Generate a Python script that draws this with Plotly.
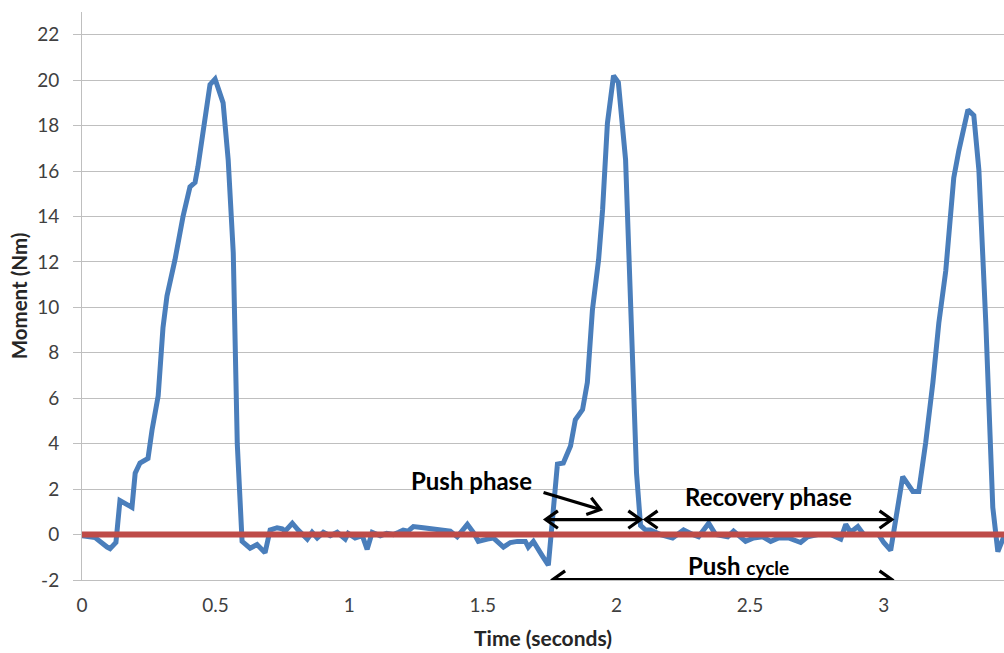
import plotly.graph_objects as go
import math

# ---------------- data ----------------
time_s = [0.000, 0.049, 0.094, 0.105, 0.127, 0.142, 0.187, 0.199, 0.217, 0.247,
          0.262, 0.285, 0.303, 0.318, 0.348, 0.378, 0.404, 0.423, 0.434, 0.461,
          0.479, 0.498, 0.528, 0.547, 0.566, 0.581, 0.599, 0.629, 0.655, 0.685,
          0.704, 0.730, 0.749, 0.760, 0.787, 0.809, 0.843, 0.861, 0.880, 0.903,
          0.929, 0.955, 0.985, 0.996, 1.022, 1.049, 1.067, 1.086, 1.116, 1.140,
          1.165, 1.185, 1.202, 1.220, 1.240, 1.277, 1.303, 1.341, 1.378, 1.404,
          1.442, 1.464, 1.483, 1.517, 1.539, 1.577, 1.603, 1.629, 1.659, 1.670,
          1.689, 1.723, 1.745, 1.779, 1.801, 1.828, 1.846, 1.873, 1.891, 1.910,
          1.933, 1.948, 1.966, 1.989, 2.007, 2.034, 2.075, 2.090, 2.109, 2.127,
          2.165, 2.210, 2.251, 2.285, 2.307, 2.345, 2.371, 2.416, 2.438, 2.483,
          2.513, 2.547, 2.577, 2.607, 2.644, 2.689, 2.715, 2.753, 2.801, 2.839,
          2.858, 2.876, 2.903, 2.925, 2.951, 2.981, 3.000, 3.026, 3.071, 3.109,
          3.131, 3.157, 3.184, 3.206, 3.232, 3.262, 3.281, 3.315, 3.337, 3.356,
          3.382, 3.408, 3.427, 3.449]
moment_nm = [-0.05, -0.13, -0.55, -0.62, -0.35, 1.50, 1.20, 2.70, 3.15, 3.35,
             4.60, 6.10, 9.10, 10.50, 12.10, 14.00, 15.30, 15.50, 16.20, 18.50,
             19.80, 20.05, 19.00, 16.50, 12.40, 4.00, -0.30, -0.60, -0.44, -0.80,
             0.20, 0.30, 0.25, 0.15, 0.50, 0.20, -0.20, 0.10, -0.15, 0.10,
             -0.05, 0.10, -0.20, 0.05, -0.15, -0.05, -0.65, 0.10, -0.05, 0.05,
             0.00, 0.10, 0.20, 0.15, 0.35, 0.30, 0.25, 0.20, 0.15, -0.10,
             0.45, 0.10, -0.30, -0.20, -0.15, -0.55, -0.35, -0.30, -0.30, -0.55,
             -0.30, -0.95, -1.35, 3.10, 3.15, 3.90, 5.05, 5.50, 6.70, 9.90,
             12.10, 14.30, 18.10, 20.20, 19.90, 16.50, 2.70, 0.40, 0.20, 0.20,
             0.00, -0.15, 0.20, 0.00, -0.10, 0.50, 0.00, -0.10, 0.15, -0.30,
             -0.15, -0.10, -0.30, -0.15, -0.15, -0.35, -0.10, 0.00, 0.00, -0.20,
             0.45, 0.10, 0.35, 0.00, 0.00, 0.00, -0.35, -0.70, 2.55, 1.90,
             1.90, 4.05, 6.70, 9.30, 11.60, 15.70, 16.90, 18.70, 18.45, 16.05,
             9.30, 1.20, -0.75, -0.10]

baseline_t = [0.0, 3.45]
baseline_v = [0.0, 0.0]

y_ticks = [-2, 0, 2, 4, 6, 8, 10, 12, 14, 16, 18, 20, 22]
x_ticks = [0, 0.5, 1, 1.5, 2, 2.5, 3]

# phase markers (time, moment)
push_phase_span = (1.735, 2.090)
recovery_span = (2.108, 3.030)
cycle_span = (1.762, 3.030)
phase_arrow_level = 0.66
cycle_arrow_level = -1.98
pointer_from = (1.727, 1.85)
pointer_to = (1.940, 1.10)

# ---------------- layout geometry ----------------
W, H = 1004, 653
ML, MR, MT, MB = 82, 0, 12, 73
X_RANGE = [0, 3.45]
Y_RANGE = [-2, 23]
px_per_x = (W - ML - MR) / (X_RANGE[1] - X_RANGE[0])
px_per_y = (H - MT - MB) / (Y_RANGE[1] - Y_RANGE[0])

FONT = "Lato, 'Open Sans', sans-serif"
BLUE = "#4A7EBB"
RED = "#BE4B48"
GRID = "#BFBFBF"

fig = go.Figure()
fig.add_trace(go.Scatter(x=time_s, y=moment_nm, mode="lines",
                         line=dict(color=BLUE, width=5), hoverinfo="skip",
                         showlegend=False))
fig.add_trace(go.Scatter(x=baseline_t, y=baseline_v, mode="lines",
                         line=dict(color=RED, width=6), hoverinfo="skip",
                         showlegend=False))


def chevron(tip, back, size=15, spread=0.62):
    """open arrowhead at tip, pointing away from back (data coords)"""
    dxp = (tip[0] - back[0]) * px_per_x
    dyp = (tip[1] - back[1]) * px_per_y
    ang = math.atan2(dyp, dxp)
    pts = []
    for s in (spread, -spread):
        a = ang + math.pi + s
        pts.append((tip[0] + size * math.cos(a) / px_per_x,
                    tip[1] + size * math.sin(a) / px_per_y))
    return [pts[0][0], tip[0], pts[1][0]], [pts[0][1], tip[1], pts[1][1]]


def arrow(p0, p1, double=True):
    xs = [p0[0], p1[0], None]
    ys = [p0[1], p1[1], None]
    cx, cy = chevron(p1, p0)
    xs += cx + [None]
    ys += cy + [None]
    if double:
        cx, cy = chevron(p0, p1)
        xs += cx + [None]
        ys += cy + [None]
    fig.add_trace(go.Scatter(x=xs, y=ys, mode="lines",
                             line=dict(color="black", width=3.2),
                             hoverinfo="skip", showlegend=False))


arrow((push_phase_span[0], phase_arrow_level), (push_phase_span[1], phase_arrow_level))
arrow((recovery_span[0], phase_arrow_level), (recovery_span[1], phase_arrow_level))
arrow((cycle_span[0], cycle_arrow_level), (cycle_span[1], cycle_arrow_level))
arrow(pointer_from, pointer_to, double=False)

ann_font = dict(family=FONT, size=24, color="black")
fig.add_annotation(x=1.457, y=2.37, text="<b>Push phase</b>", showarrow=False,
                   font=ann_font, xref="x", yref="y")
fig.add_annotation(x=2.569, y=1.67, text="<b>Recovery phase</b>", showarrow=False,
                   font=ann_font, xref="x", yref="y")
fig.add_annotation(x=2.455, y=-1.38,
                   text="<b>Push <span style='font-size:19px'>cycle</span></b>",
                   showarrow=False, font=ann_font, xref="x", yref="y")

fig.update_layout(
    width=W, height=H,
    margin=dict(l=ML, r=MR, t=MT, b=MB, autoexpand=False),
    plot_bgcolor="white", paper_bgcolor="white",
    font=dict(family=FONT, color="#404040", size=19),
    xaxis=dict(range=X_RANGE, tickvals=x_ticks, ticktext=[str(v) for v in x_ticks],
               showgrid=False, zeroline=False, showline=True, linecolor=GRID,
               linewidth=1, ticks="", ticklabelstandoff=8,
               tickfont=dict(size=19, color="#404040"),
               title=dict(text="<b>Time (seconds)</b>", standoff=16,
                          font=dict(size=21, color="#262626"))),
    yaxis=dict(range=Y_RANGE, tickvals=y_ticks, ticktext=[str(v) for v in y_ticks],
               showgrid=True, gridcolor=GRID, gridwidth=1, zeroline=False,
               showline=True, linecolor=GRID, linewidth=1,
               ticks="outside", ticklen=8, tickcolor=GRID, ticklabelstandoff=10,
               tickfont=dict(size=19, color="#404040"),
               title=dict(text="<b>Moment (Nm)</b>", standoff=3,
                          font=dict(size=20.5, color="#262626"))),
)

fig.write_html("out.html")
